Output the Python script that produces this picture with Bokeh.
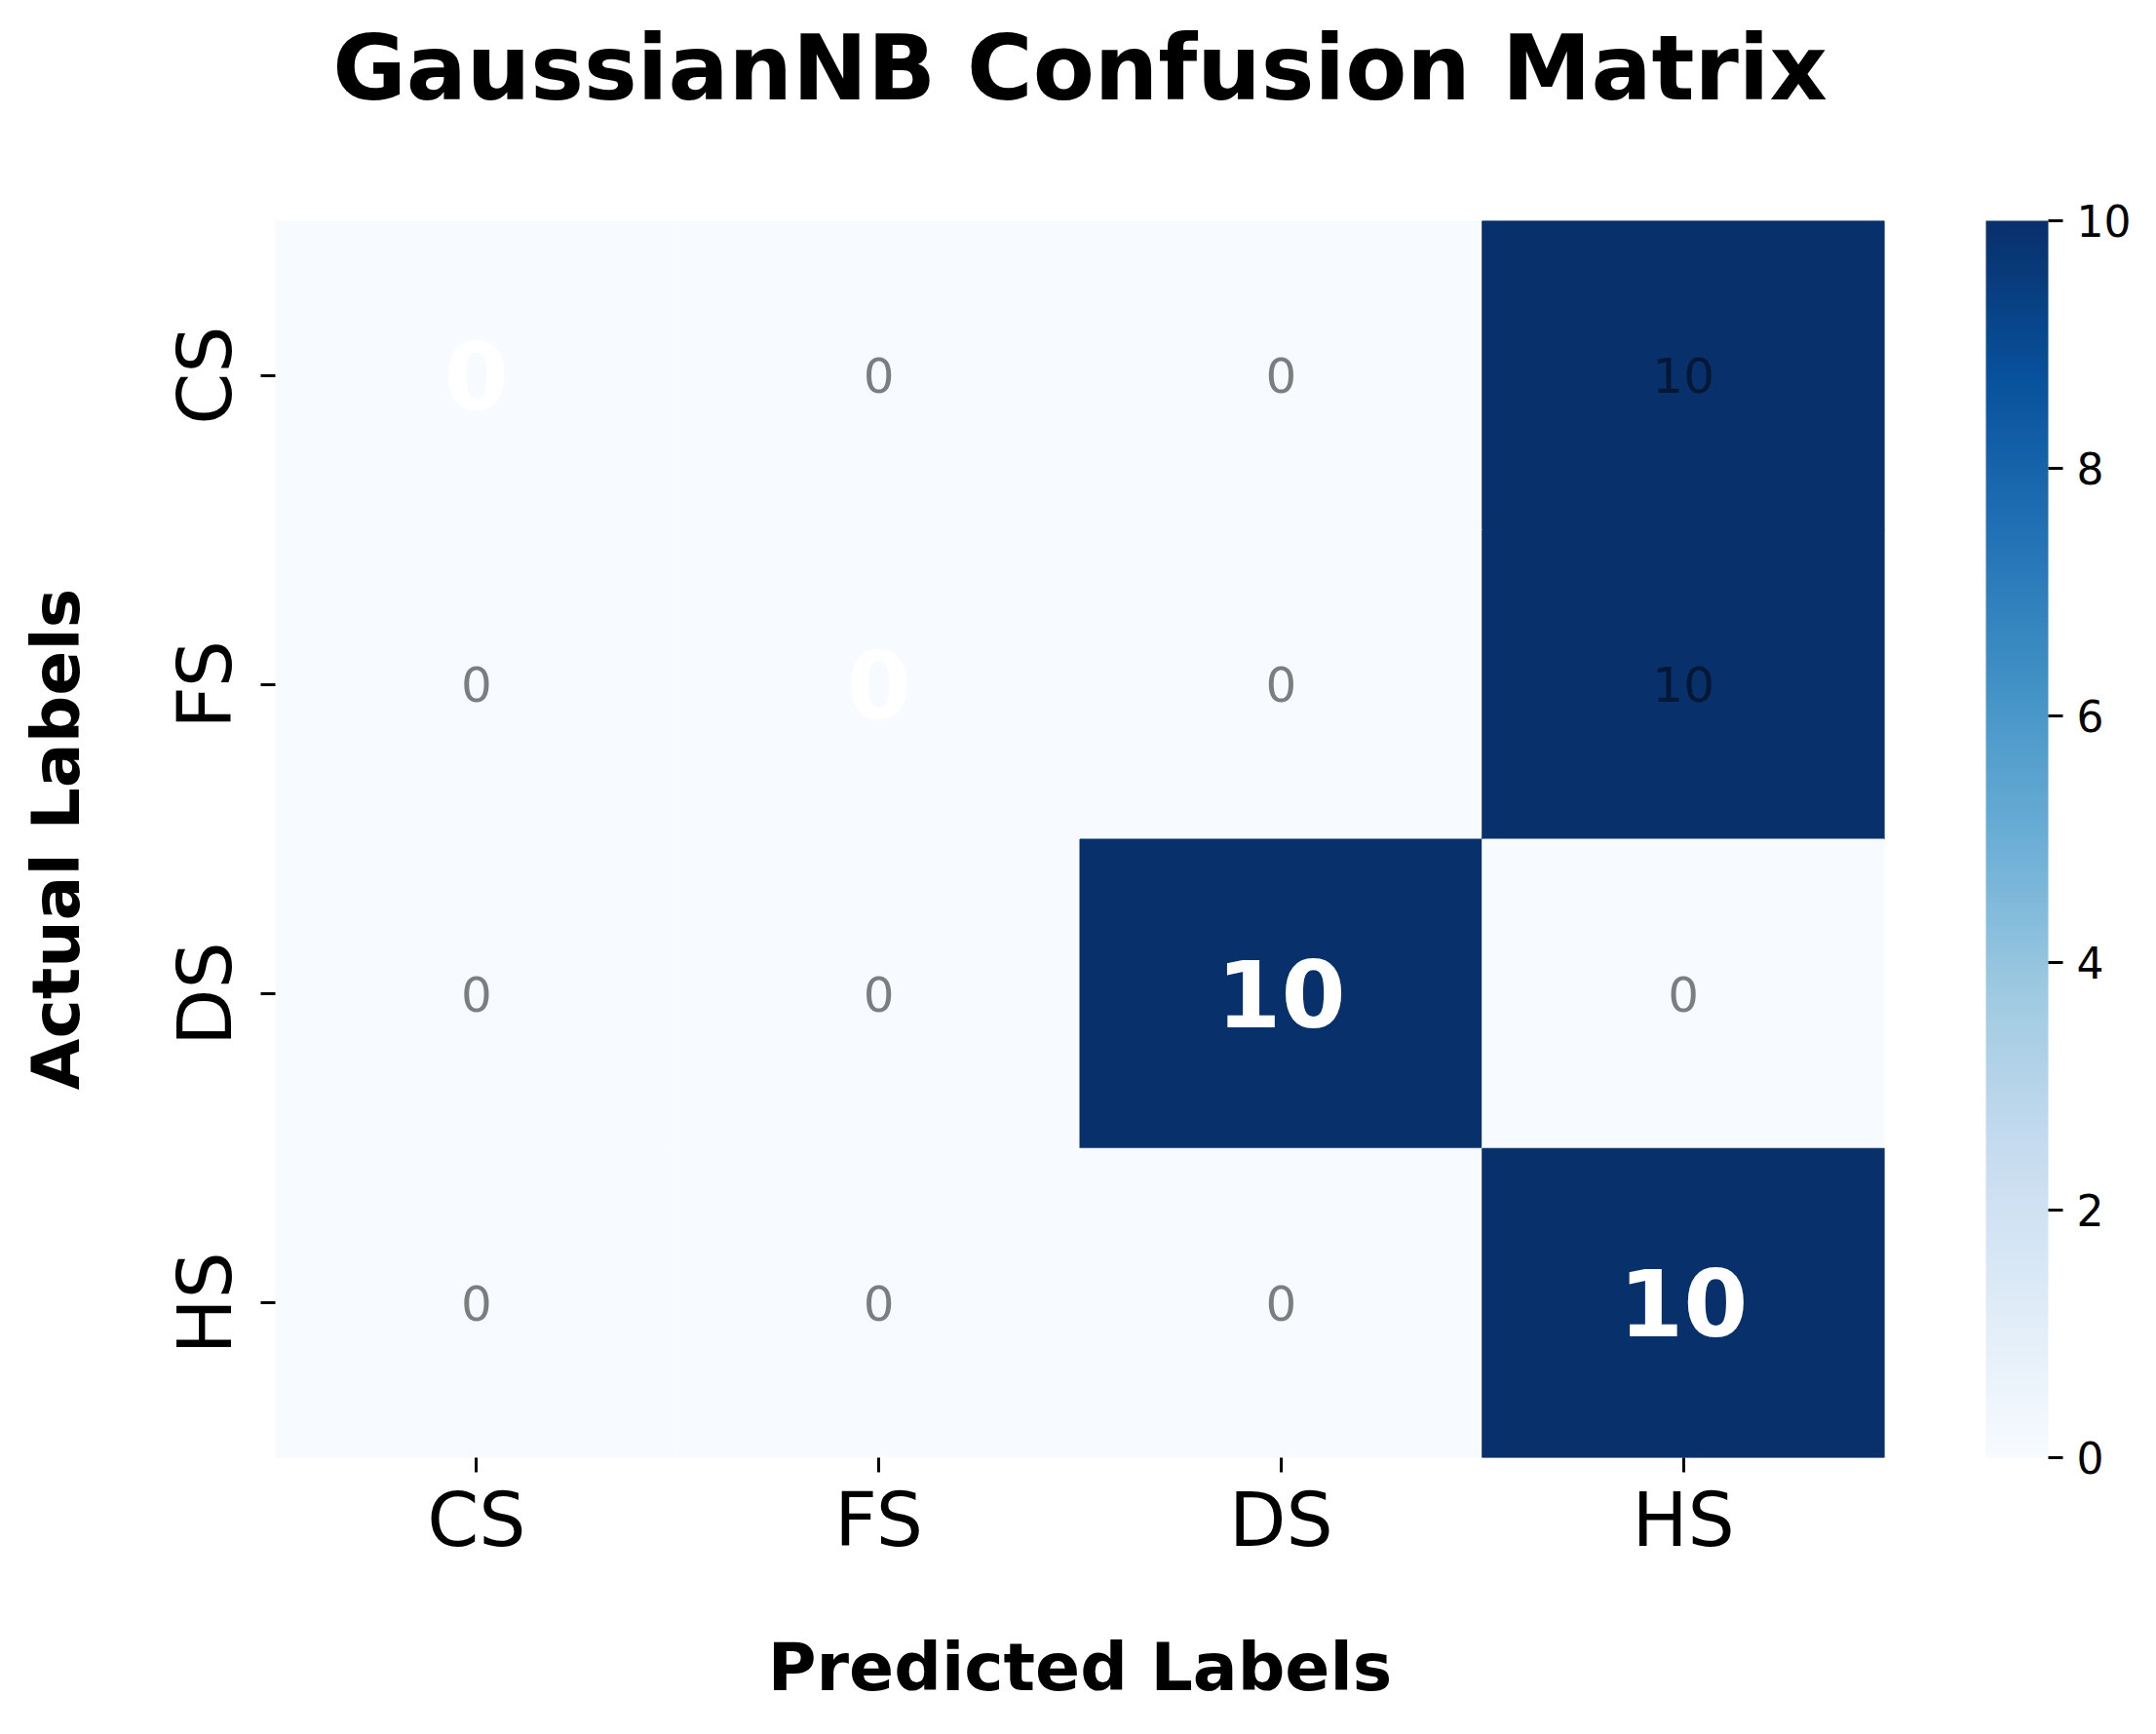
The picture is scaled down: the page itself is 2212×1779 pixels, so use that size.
from bokeh.plotting import figure
from bokeh.models import (FactorRange, LinearColorMapper, ColorBar, FixedTicker,
                          ColumnDataSource, Title)
from bokeh.transform import transform
from bokeh.embed import file_html
from bokeh.resources import INLINE
from bokeh.core.properties import value

try:
    from bokeh.palettes import Blues256 as _BLUES
    palette = list(_BLUES)
except ImportError:
    from bokeh.palettes import Blues9 as _BLUES
    palette = list(_BLUES)

def _lum(h):
    h = h.lstrip("#")
    return sum(int(h[i:i + 2], 16) for i in (0, 2, 4))

if _lum(palette[0]) < _lum(palette[-1]):
    palette = palette[::-1]

# ---- data ----
labels = ["CS", "FS", "DS", "HS"]
row_CS = [0, 0, 0, 10]
row_FS = [0, 0, 0, 10]
row_DS = [0, 0, 10, 0]
row_HS = [0, 0, 0, 10]
matrix = [row_CS, row_FS, row_DS, row_HS]
cbar_ticks = [0, 2, 4, 6, 8, 10]

FONT = "DejaVu Sans"

xs, ys, vals, txt = [], [], [], []
for i, actual in enumerate(labels):
    for j, pred in enumerate(labels):
        xs.append(pred)
        ys.append(actual)
        vals.append(matrix[i][j])
        txt.append(str(matrix[i][j]))

diag = [k for k in range(len(xs)) if xs[k] == ys[k]]
off = [k for k in range(len(xs)) if xs[k] != ys[k]]

src = ColumnDataSource(dict(x=xs, y=ys, v=vals))
src_diag = ColumnDataSource(dict(x=[xs[k] for k in diag], y=[ys[k] for k in diag],
                                 t=[txt[k] for k in diag]))
src_off = ColumnDataSource(dict(x=[xs[k] for k in off], y=[ys[k] for k in off],
                                t=[txt[k] for k in off]))

mapper = LinearColorMapper(palette=palette, low=0, high=10)

p = figure(x_range=FactorRange(*labels),
           y_range=FactorRange(*labels[::-1]),
           frame_width=1651, frame_height=1269,
           output_backend="svg", toolbar_location=None,
           min_border_left=282, min_border_right=271,
           min_border_top=226, min_border_bottom=276)

p.rect(x="x", y="y", width=1, height=1, source=src,
       fill_color=transform("v", mapper),
       line_color=transform("v", mapper), line_width=1)

p.text(x="x", y="y", text="t", source=src_diag,
       text_font=value(FONT), text_font_style="bold", text_font_size="95px",
       text_color="white", text_align="center", text_baseline="middle")
p.text(x="x", y="y", text="t", source=src_off,
       text_font=value(FONT), text_font_size="50px",
       text_color="black", text_alpha=0.5, text_align="center", text_baseline="middle")

# spacer between frame and title
spacer = Title(text=" ", text_font_size="1px", standoff=98)
p.add_layout(spacer, "above")

# title
p.title.text = "GaussianNB Confusion Matrix"
p.title.align = "center"
p.title.vertical_align = "top"
p.title.text_font = FONT
p.title.text_font_size = "92px"
p.title.text_font_style = "bold"
p.title.text_color = "black"
p.title.standoff = 0

# axes
for ax in (p.xaxis[0], p.yaxis[0]):
    ax.axis_line_color = None
    ax.major_tick_line_color = "black"
    ax.major_tick_line_width = 3
    ax.major_tick_out = 15
    ax.major_tick_in = 0
    ax.minor_tick_line_color = None
    ax.major_label_text_font = FONT
    ax.major_label_text_font_size = "76px"
    ax.major_label_text_color = "black"
    ax.axis_label_text_font = FONT
    ax.axis_label_text_font_size = "68px"
    ax.axis_label_text_font_style = "bold"
    ax.axis_label_text_color = "black"

p.xaxis.axis_label = "Predicted Labels"
p.yaxis.axis_label = "Actual Labels"
p.xaxis.major_label_standoff = 4
p.xaxis.axis_label_standoff = 64
p.yaxis.major_label_orientation = "vertical"
p.yaxis.major_label_standoff = 13
p.yaxis.axis_label_standoff = 66

p.xgrid.grid_line_color = None
p.ygrid.grid_line_color = None
p.outline_line_color = None

cb = ColorBar(color_mapper=mapper, ticker=FixedTicker(ticks=cbar_ticks),
              width=64, height=1269, location=(104, 0),
              padding=0, margin=0, bar_line_color=None,
              major_tick_line_color="black", major_tick_line_width=3,
              major_tick_out=15, major_tick_in=0,
              major_label_text_font=FONT, major_label_text_font_size="44px",
              major_label_text_color="black", label_standoff=14,
              background_fill_color=None, border_line_color=None)
p.add_layout(cb, "right")

open("out.html", "w").write(file_html(p, INLINE))
